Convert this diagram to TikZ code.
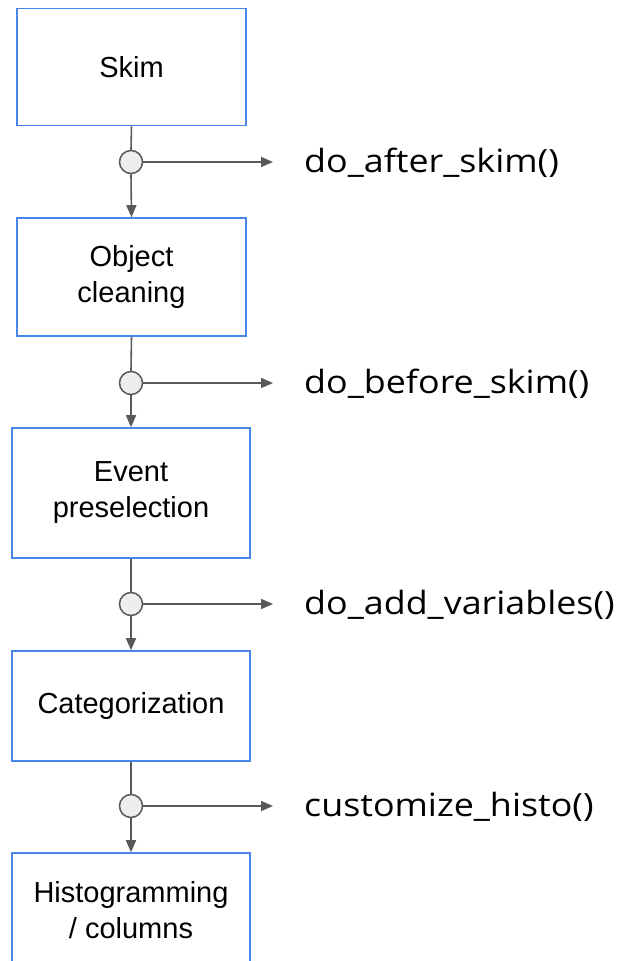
\documentclass[tikz,border=0pt]{standalone}
\usepackage{fontspec}
\setmainfont{Liberation Sans}
\newfontfamily\hookfont[FakeStretch=1.12]{Open Sans}
\usetikzlibrary{arrows.meta}
\definecolor{boxblue}{HTML}{4A86E8}
\definecolor{linegray}{HTML}{595959}
\definecolor{dotfill}{HTML}{EEEEEE}
\tikzset{
  x=1pt, y=-1pt,
  stagebox/.style={draw=boxblue, line width=1.6pt, fill=white, align=center,
    font=\fontsize{29}{36}\selectfont, inner sep=0pt},
  hookdot/.style={circle, draw=linegray, fill=dotfill, line width=1.5pt,
    minimum size=23pt, inner sep=0pt},
  flow/.style={draw=linegray, line width=1.6pt},
  flowarrow/.style={flow, -{Triangle[length=12pt,width=10pt]}},
  hooklabel/.style={anchor=west, inner sep=0pt,
    font=\hookfont\fontsize{32}{36}\selectfont}
}
\begin{document}
\begin{tikzpicture}
\useasboundingbox (0,0) rectangle (621,961);
\clip (0,0) rectangle (621,961);

% processing stages
\node[stagebox, minimum width=229pt, minimum height=117pt] (skim) at (131.5,67) {Skim};
\node[stagebox, minimum width=229pt, minimum height=118pt] (clean) at (131.5,277) {Object\\cleaning};
\node[stagebox, minimum width=238pt, minimum height=130pt] (presel) at (131,493) {Event\\preselection};
\node[stagebox, minimum width=238pt, minimum height=110pt] (categ) at (131,706) {Categorization};
\node[stagebox, minimum width=238pt, minimum height=114pt] (histo) at (131,910) {Histogramming\\/ columns};

% hook points between stages
\node[hookdot] (h1) at (131,162) {};
\node[hookdot] (h2) at (131,383) {};
\node[hookdot] (h3) at (131,604) {};
\node[hookdot] (h4) at (131,806) {};

% hook labels
\node[hooklabel] (l1) at (304,163) {do\_after\_skim()};
\node[hooklabel] (l2) at (304,384) {do\_before\_skim()};
\node[hooklabel] (l3) at (304,605) {do\_add\_variables()};
\node[hooklabel] (l4) at (304,807) {customize\_histo()};

\coordinate (e1) at (273,162);
\coordinate (e2) at (273,383);
\coordinate (e3) at (273,604);
\coordinate (e4) at (273,806);

% vertical flow
\draw[flow] (skim.south) -- (h1.north);
\draw[flowarrow] (h1.south) -- (clean.north);
\draw[flow] (clean.south) -- (h2.north);
\draw[flowarrow] (h2.south) -- (presel.north);
\draw[flow] (presel.south) -- (h3.north);
\draw[flowarrow] (h3.south) -- (categ.north);
\draw[flow] (categ.south) -- (h4.north);
\draw[flowarrow] (h4.south) -- (histo.north);

% side branches to the hooks
\draw[flowarrow] (h1.east) -- (e1);
\draw[flowarrow] (h2.east) -- (e2);
\draw[flowarrow] (h3.east) -- (e3);
\draw[flowarrow] (h4.east) -- (e4);
\end{tikzpicture}
\end{document}
